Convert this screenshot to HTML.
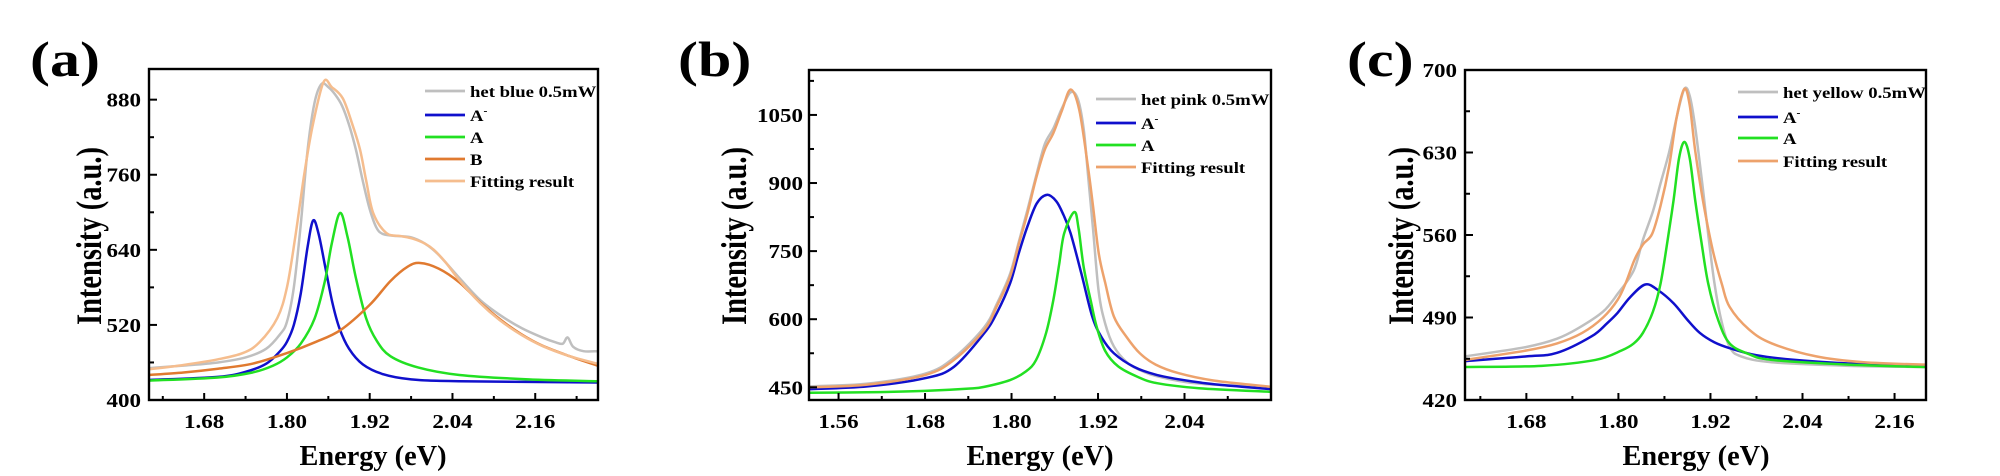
<!DOCTYPE html>
<html><head><meta charset="utf-8"><style>
html,body{margin:0;padding:0;background:#fff}
svg{display:block}
text{font-family:"Liberation Serif",serif;font-weight:bold;fill:#000}
</style></head><body>
<svg id="fig" width="2000" height="476" viewBox="0 0 2000 476"></svg>
<script>
// ---- Panel (a) data ----
const aGrayE=[1.60,1.65,1.70,1.74,1.77,1.79,1.80,1.81,1.82,1.83,1.84,1.85,1.86,1.87,1.88,1.89,1.90,1.91,1.92,1.93,1.94,1.96,1.98,2.00,2.02,2.05,2.08,2.11,2.14,2.17,2.19,2.20,2.207,2.215,2.23,2.25];
const aGrayI=[451,455,460,468,482,505,525,580,680,800,875,905,900,888,870,840,800,750,705,675,665,662,660,650,632,595,560,535,515,500,492,490,500,485,478,478];
const aBlueE=[1.60,1.70,1.74,1.77,1.79,1.80,1.81,1.82,1.83,1.838,1.846,1.856,1.866,1.876,1.89,1.91,1.94,1.98,2.05,2.25];
const aBlueI=[432,437,445,458,478,493,520,570,645,687,665,610,555,515,482,457,441,433,430,428];
const aGreenE=[1.60,1.70,1.75,1.78,1.80,1.82,1.84,1.855,1.865,1.877,1.888,1.90,1.915,1.93,1.95,1.99,2.05,2.15,2.25];
const aGreenI=[431,436,444,455,468,490,530,590,650,699,660,595,530,495,470,452,440,433,430];
const aOrangeE=[1.60,1.65,1.70,1.75,1.80,1.84,1.878,1.92,1.95,1.975,1.993,2.02,2.05,2.08,2.11,2.14,2.17,2.21,2.25];
const aOrangeI=[440,444,450,458,475,492,512,552,590,613,619,610,588,556,528,505,487,470,455];
const aFitE=[1.60,1.65,1.70,1.736,1.76,1.786,1.80,1.812,1.825,1.837,1.853,1.865,1.881,1.895,1.906,1.915,1.925,1.944,1.965,1.982,2.00,2.013,2.03,2.051,2.08,2.108,2.14,2.171,2.21,2.25];
const aFitI=[449,456,465,475,492,531,580,660,760,837,908,900,882,840,800,750,699,667,662,658,650,640,620,590,555,528,504,486,470,458];
const aXTicks=[1.68,1.80,1.92,2.04,2.16];
const aYTicks=[400,520,640,760,880];
// ---- Panel (b) data ----
const bGrayE=[1.52,1.60,1.68,1.72,1.762,1.78,1.798,1.81,1.822,1.834,1.846,1.858,1.87,1.882,1.892,1.90,1.906,1.913,1.921,1.93,1.942,1.96,1.978,2.0,2.04,2.08,2.16];
const bGrayI=[452,458,480,515,582,635,700,770,840,915,985,1020,1065,1100,1085,1020,920,800,660,590,540,505,488,475,462,456,451];
const bBlueE=[1.52,1.60,1.68,1.72,1.762,1.78,1.798,1.81,1.822,1.835,1.849,1.862,1.872,1.882,1.897,1.912,1.925,1.942,1.97,2.002,2.05,2.092,2.16];
const bBlueI=[446,452,470,495,569,615,679,745,804,855,874,860,830,789,700,606,560,525,495,477,463,455,446];
const bGreenE=[1.52,1.60,1.68,1.74,1.762,1.798,1.82,1.834,1.848,1.858,1.866,1.873,1.887,1.893,1.90,1.91,1.918,1.93,1.948,1.975,2.002,2.06,2.16];
const bGreenI=[438,439,442,447,451,466,485,510,570,642,720,789,836,800,716,640,584,530,496,473,459,448,440];
const bFitE=[1.52,1.60,1.68,1.72,1.762,1.78,1.798,1.81,1.822,1.834,1.846,1.858,1.87,1.882,1.894,1.906,1.913,1.921,1.93,1.942,1.96,1.978,2.0,2.032,2.08,2.16];
const bFitI=[450,456,477,510,576,630,694,765,833,910,973,1010,1060,1106,1061,936,850,745,680,606,560,525,500,481,465,451];
const bXTicks=[1.56,1.68,1.80,1.92,2.04];
const bYTicks=[450,600,750,900,1050];
// ---- Panel (c) data ----
const cGrayE=[1.60,1.68,1.72,1.748,1.78,1.799,1.82,1.832,1.845,1.855,1.866,1.876,1.886,1.893,1.90,1.91,1.917,1.925,1.934,1.945,1.96,2.0,2.1,2.20];
const cGrayI=[457,465,472,481,495,510,530,556,580,604,630,660,684,678,652,600,561,520,488,465,457,452,449,448];
const cBlueE=[1.60,1.68,1.72,1.765,1.785,1.799,1.815,1.835,1.852,1.872,1.89,1.906,1.925,1.945,1.98,2.03,2.10,2.20];
const cBlueI=[453,457,460,474,485,494,507,518,513,502,488,477,469,464,458,454,451,449];
const cGreenE=[1.60,1.70,1.77,1.804,1.82,1.832,1.845,1.855,1.864,1.872,1.879,1.886,1.893,1.90,1.908,1.917,1.93,1.945,1.97,2.0,2.1,2.20];
const cGreenI=[448,449,454,462,468,477,495,519,555,590,625,639,625,590,555,519,488,468,459,454,450,448];
const cFitE=[1.60,1.68,1.72,1.753,1.78,1.799,1.81,1.821,1.832,1.844,1.855,1.866,1.876,1.886,1.893,1.90,1.91,1.923,1.935,1.945,1.97,2.0,2.058,2.12,2.20];
const cFitI=[454,462,468,477,490,505,520,539,552,561,585,618,660,684,670,632,590,547,518,499,480,468,457,452,450];
const cXTicks=[1.68,1.80,1.92,2.04,2.16];
const cYTicks=[420,490,560,630,700];

const NS="http://www.w3.org/2000/svg";
const svg=document.getElementById('fig');
function mk(tag,attrs,parent){const e=document.createElementNS(NS,tag);for(const k in attrs)e.setAttribute(k,attrs[k]);(parent||svg).appendChild(e);return e;}
function txt(parent,x,y,str,size,anchor,sx,extra){
  const a={transform:'translate('+x+','+y+') scale('+sx+',1)','font-size':size,'text-anchor':anchor||'start'};
  if(extra)for(const k in extra)a[k]=extra[k];
  const t=mk('text',a,parent);t.textContent=str;return t;
}
function smoothPath(pts){
  let d='M'+pts[0][0].toFixed(2)+','+pts[0][1].toFixed(2);
  for(let i=0;i<pts.length-1;i++){
    const p0=pts[i-1]||pts[i],p1=pts[i],p2=pts[i+1],p3=pts[i+2]||p2;
    const c1x=p1[0]+(p2[0]-p0[0])/6,c1y=p1[1]+(p2[1]-p0[1])/6;
    const c2x=p2[0]-(p3[0]-p1[0])/6,c2y=p2[1]-(p3[1]-p1[1])/6;
    d+='C'+c1x.toFixed(2)+','+c1y.toFixed(2)+' '+c2x.toFixed(2)+','+c2y.toFixed(2)+' '+p2[0].toFixed(2)+','+p2[1].toFixed(2);
  }
  return d;
}
function panel(cfg){
  const g=mk('g',{});
  
  
  const {L,R,T,B,x0,x1,y0,y1}=cfg;
  const sx=v=>L+(v-x0)/(x1-x0)*(R-L);
  const sy=v=>B-(v-y0)/(y1-y0)*(B-T);
  const clip=mk('clipPath',{id:'clip'+cfg.id},g);
  mk('rect',{x:L,y:T,width:R-L,height:B-T},clip);
  const lbl=txt(g,cfg.labX,76,'('+cfg.id+')',50,'start',1.2);
  
  
  const sg=mk('g',{'clip-path':'url(#clip'+cfg.id+')'},g);
  cfg.series.forEach(s=>{
    const pts=s.E.map((e,i)=>[sx(e),sy(s.I[i])]);
    const p=mk('path',{d:smoothPath(pts),fill:'none',stroke:s.color,'stroke-width':s.w||2.5,'stroke-linejoin':'round'},sg);
    
    
  });
  const fr=mk('rect',{x:L,y:T,width:R-L,height:B-T,fill:'none',stroke:'#000','stroke-width':2.4},g);
  
  
  const xstep=cfg.xt[1]-cfg.xt[0];
  for(let v=cfg.xt[0]-xstep;v<=x1+1e-9;v+=xstep/2){
    if(v<x0-1e-9)continue;
    const major=cfg.xt.some(t=>Math.abs(t-v)<1e-6);
    const X=sx(v);
    mk('line',{x1:X,x2:X,y1:B,y2:B-(major?7:4),stroke:'#000','stroke-width':2},g);
  }
  cfg.xt.forEach(v=>{
    const t=txt(g,sx(v),B+28,v.toFixed(2),20,'middle',1.15);
    
    
  });
  const ystep=cfg.yt[1]-cfg.yt[0];
  for(let v=cfg.yt[0]-ystep;v<=y1+1e-9;v+=ystep/2){
    if(v<y0-1e-9)continue;
    const major=cfg.yt.some(t=>Math.abs(t-v)<1e-6);
    const Y=sy(v);
    mk('line',{x1:L,x2:L+(major?8:5),y1:Y,y2:Y,stroke:'#000','stroke-width':2},g);
  }
  cfg.yt.forEach(v=>{
    const t=txt(g,cfg.tickR,sy(v)+7,String(v),20,'end',1.15);
    
    
  });
  const xt=mk('text',{x:cfg.enX,y:465,'text-anchor':'middle','font-size':29,textLength:147,lengthAdjust:'spacingAndGlyphs'},g);
  xt.textContent='Energy (eV)';
  
  
  const yt=mk('text',{x:0,y:0,'text-anchor':'middle','font-size':29,textLength:178,lengthAdjust:'spacingAndGlyphs',transform:'translate('+(cfg.ylabX+10)+',236) scale(1.25,1) rotate(-90)'},g);
  yt.textContent='Intensity (a.u.)';
  
  
  cfg.series.forEach((s,i)=>{
    const y=cfg.legY[i];
    const lg=mk('g',{},g);
    
    
    mk('line',{x1:cfg.legX,x2:cfg.legX+40,y1:y-6,y2:y-6,stroke:s.color,'stroke-width':2.8},lg);
    if(s.label==='A-'){const t=txt(lg,cfg.legX+45,y,'A',16,'start',1.17);const sp=mk('tspan',{dy:-7,'font-size':10},t);sp.textContent='-';}
    else txt(lg,cfg.legX+45,y,s.label,16,'start',1.17);
  });
}
const GRAY='#bfbfbf',BLUE='#1010cc',GREEN='#22e022',ORANGE='#e07a30',FITA='#f5bd8e',FITB='#eda26c';
panel({id:'a',L:149,R:598,T:69,B:400,x0:1.60,x1:2.251,y0:400,y1:929,xt:aXTicks,yt:aYTicks,labX:30,tickR:141,ylabX:91,enX:373,legX:425,legY:[97,121,143,165,187],
  series:[{key:'het-blue',label:'het blue 0.5mW',E:aGrayE,I:aGrayI,color:GRAY},
          {key:'a-minus',label:'A-',E:aBlueE,I:aBlueI,color:BLUE},
          {key:'a',label:'A',E:aGreenE,I:aGreenI,color:GREEN},
          {key:'b',label:'B',E:aOrangeE,I:aOrangeI,color:ORANGE},
          {key:'fit',label:'Fitting result',E:aFitE,I:aFitI,color:FITA}]});
panel({id:'b',L:809,R:1271,T:70,B:400,x0:1.519,x1:2.16,y0:422,y1:1149,xt:bXTicks,yt:bYTicks,labX:678,tickR:803,ylabX:736,enX:1040,legX:1096,legY:[105,129,151,173],
  series:[{key:'het-pink',label:'het pink 0.5mW',E:bGrayE,I:bGrayI,color:GRAY},
          {key:'a-minus',label:'A-',E:bBlueE,I:bBlueI,color:BLUE},
          {key:'a',label:'A',E:bGreenE,I:bGreenI,color:GREEN},
          {key:'fit',label:'Fitting result',E:bFitE,I:bFitI,color:FITB}]});
panel({id:'c',L:1465,R:1926,T:70,B:400,x0:1.60,x1:2.201,y0:420,y1:700,xt:cXTicks,yt:cYTicks,labX:1347,tickR:1457,ylabX:1403,enX:1696,legX:1738,legY:[98,123,144,167],
  series:[{key:'het-yellow',label:'het yellow 0.5mW',E:cGrayE,I:cGrayI,color:GRAY},
          {key:'a-minus',label:'A-',E:cBlueE,I:cBlueI,color:BLUE},
          {key:'a',label:'A',E:cGreenE,I:cGreenI,color:GREEN},
          {key:'fit',label:'Fitting result',E:cFitE,I:cFitI,color:FITB}]});
</script>
</body></html>
